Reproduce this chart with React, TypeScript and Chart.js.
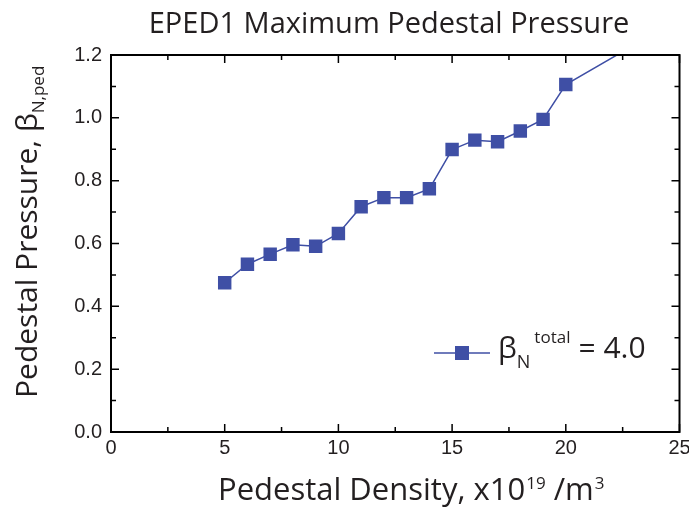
import React, { useEffect, useRef } from 'react';
import { Chart, registerables } from 'chart.js';

Chart.register(...registerables);

// ---- data ----
const density = [5, 6, 7, 8, 9, 10, 11, 12, 13, 14, 15, 16, 17, 18, 19, 20, 25];
const pressure = [0.475, 0.534, 0.566, 0.596, 0.591, 0.632, 0.717, 0.746, 0.746, 0.774, 0.899, 0.929, 0.924, 0.958, 0.995, 1.106, 1.315];

const xMajor = [0, 5, 10, 15, 20, 25];
const xMinor = [2.5, 7.5, 12.5, 17.5, 22.5];
const yMajor = [0, 0.2, 0.4, 0.6, 0.8, 1.0, 1.2];
const yMinor = [0.1, 0.3, 0.5, 0.7, 0.9, 1.1];

const chartTitle = 'EPED1 Maximum Pedestal Pressure';
const xTitleMain = 'Pedestal Density, x10';
const xTitleSup = '19';
const xTitleUnit = ' /m';
const xTitleUnitSup = '3';
const yTitleMain = 'Pedestal Pressure, ';
const yTitleBeta = 'β';
const yTitleSub = 'N,ped';
const legendBeta = 'β';
const legendSub = 'N';
const legendSup = 'total';
const legendValue = '= 4.0';

const BLUE = '#3f4fa5';
const TEXT = '#231f20';
const TITLE_FONT = '"Open Sans", "Noto Sans", sans-serif';

const decorPlugin = {
  id: 'decor',
  afterDraw(chart: any) {
    const ctx: CanvasRenderingContext2D = chart.ctx;
    const area = chart.chartArea;
    const xs = chart.scales.x;
    const ys = chart.scales.y;
    ctx.save();

    // frame
    ctx.strokeStyle = '#000';
    ctx.lineWidth = 2;
    ctx.strokeRect(area.left, area.top, area.right - area.left, area.bottom - area.top);

    // inward ticks
    ctx.lineWidth = 1.5;
    const drawX = (vals: number[], len: number) => {
      vals.forEach((v) => {
        const px = xs.getPixelForValue(v);
        ctx.beginPath();
        ctx.moveTo(px, area.bottom);
        ctx.lineTo(px, area.bottom - len);
        ctx.moveTo(px, area.top);
        ctx.lineTo(px, area.top + len);
        ctx.stroke();
      });
    };
    const drawY = (vals: number[], len: number) => {
      vals.forEach((v) => {
        const py = ys.getPixelForValue(v);
        ctx.beginPath();
        ctx.moveTo(area.left, py);
        ctx.lineTo(area.left + len, py);
        ctx.moveTo(area.right, py);
        ctx.lineTo(area.right - len, py);
        ctx.stroke();
      });
    };
    drawX(xMajor, 8);
    drawX(xMinor, 5);
    drawY(yMajor, 8);
    drawY(yMinor, 5);

    ctx.fillStyle = TEXT;
    ctx.textBaseline = 'alphabetic';

    // title
    ctx.font = `29px ${TITLE_FONT}`;
    ctx.textAlign = 'center';
    ctx.fillText(chartTitle, 389, 33);

    // x title
    ctx.textAlign = 'left';
    let x = 218;
    const xb = 500;
    ctx.font = `31px ${TITLE_FONT}`;
    ctx.fillText(xTitleMain, x, xb);
    x += ctx.measureText(xTitleMain).width + 1;
    ctx.font = `17px ${TITLE_FONT}`;
    ctx.fillText(xTitleSup, x, xb - 11);
    x += ctx.measureText(xTitleSup).width;
    ctx.font = `31px ${TITLE_FONT}`;
    ctx.fillText(xTitleUnit, x, xb);
    x += ctx.measureText(xTitleUnit).width + 1;
    ctx.font = `17px ${TITLE_FONT}`;
    ctx.fillText(xTitleUnitSup, x, xb - 11);

    // y title (rotated)
    ctx.save();
    ctx.translate(37, 398);
    ctx.rotate(-Math.PI / 2);
    let t = 0;
    ctx.font = `30px ${TITLE_FONT}`;
    ctx.fillText(yTitleMain, t, 0);
    t += ctx.measureText(yTitleMain).width;
    ctx.fillText(yTitleBeta, t, 0);
    t += ctx.measureText(yTitleBeta).width;
    ctx.font = `17px ${TITLE_FONT}`;
    ctx.fillText(yTitleSub, t, 7);
    ctx.restore();

    // legend
    const ly = 353;
    ctx.strokeStyle = BLUE;
    ctx.lineWidth = 1.5;
    ctx.beginPath();
    ctx.moveTo(434, ly);
    ctx.lineTo(490, ly);
    ctx.stroke();
    ctx.fillStyle = BLUE;
    ctx.fillRect(462 - 7, ly - 7, 14, 14);
    ctx.fillStyle = TEXT;
    let lx = 498;
    const lb = 358;
    ctx.font = `30px ${TITLE_FONT}`;
    ctx.fillText(legendBeta, lx, lb);
    lx += ctx.measureText(legendBeta).width;
    ctx.font = `18px ${TITLE_FONT}`;
    ctx.fillText(legendSub, lx, lb + 10);
    lx += ctx.measureText(legendSub).width + 4;
    ctx.font = `17px ${TITLE_FONT}`;
    ctx.fillText(legendSup, lx, lb - 15);
    lx += ctx.measureText(legendSup).width + 8;
    ctx.font = `30px ${TITLE_FONT}`;
    ctx.fillText(legendValue, lx, lb);

    ctx.restore();
  },
};

export default function App() {
  const ref = useRef<HTMLCanvasElement | null>(null);
  useEffect(() => {
    document.body.style.margin = '0';
    const canvas = ref.current;
    if (!canvas) return;
    const chart = new Chart(canvas, {
      type: 'line',
      data: {
        datasets: [
          {
            label: 'beta_N total = 4.0',
            data: density.map((d, i) => ({ x: d, y: pressure[i] })),
            borderColor: BLUE,
            backgroundColor: BLUE,
            borderWidth: 1.5,
            pointStyle: 'rect',
            pointRadius: 9.5,
            pointHoverRadius: 9.5,
            pointBorderWidth: 0,
            pointBackgroundColor: BLUE,
            tension: 0,
          },
        ],
      },
      options: {
        animation: false,
        responsive: false,
        events: [],
        layout: { padding: { top: 55, right: 9, left: 0, bottom: 0 } },
        plugins: {
          legend: { display: false },
          title: { display: false },
          tooltip: { enabled: false },
        },
        scales: {
          x: {
            type: 'linear',
            min: 0,
            max: 25,
            grid: { display: false, drawTicks: false },
            border: { display: false },
            ticks: {
              stepSize: 5,
              padding: 4,
              color: TEXT,
              font: { family: '"Liberation Sans", Arial, sans-serif', size: 20 },
            },
            afterFit: (scale: any) => {
              scale.height = 82;
              scale.paddingLeft = 0;
              scale.paddingRight = 0;
            },
          },
          y: {
            type: 'linear',
            min: 0,
            max: 1.2,
            grid: { display: false, drawTicks: false },
            border: { display: false },
            ticks: {
              stepSize: 0.2,
              padding: 9,
              color: TEXT,
              font: { family: '"Liberation Sans", Arial, sans-serif', size: 20 },
              callback: (v: any) => Number(v).toFixed(1),
            },
            afterFit: (scale: any) => {
              scale.width = 111;
              scale.paddingTop = 0;
              scale.paddingBottom = 0;
            },
          },
        },
      },
      plugins: [decorPlugin],
    });
    return () => chart.destroy();
  }, []);
  return (
    <div style={{ width: 689, height: 514 }}>
      <canvas ref={ref} width={689} height={514} />
    </div>
  );
}
